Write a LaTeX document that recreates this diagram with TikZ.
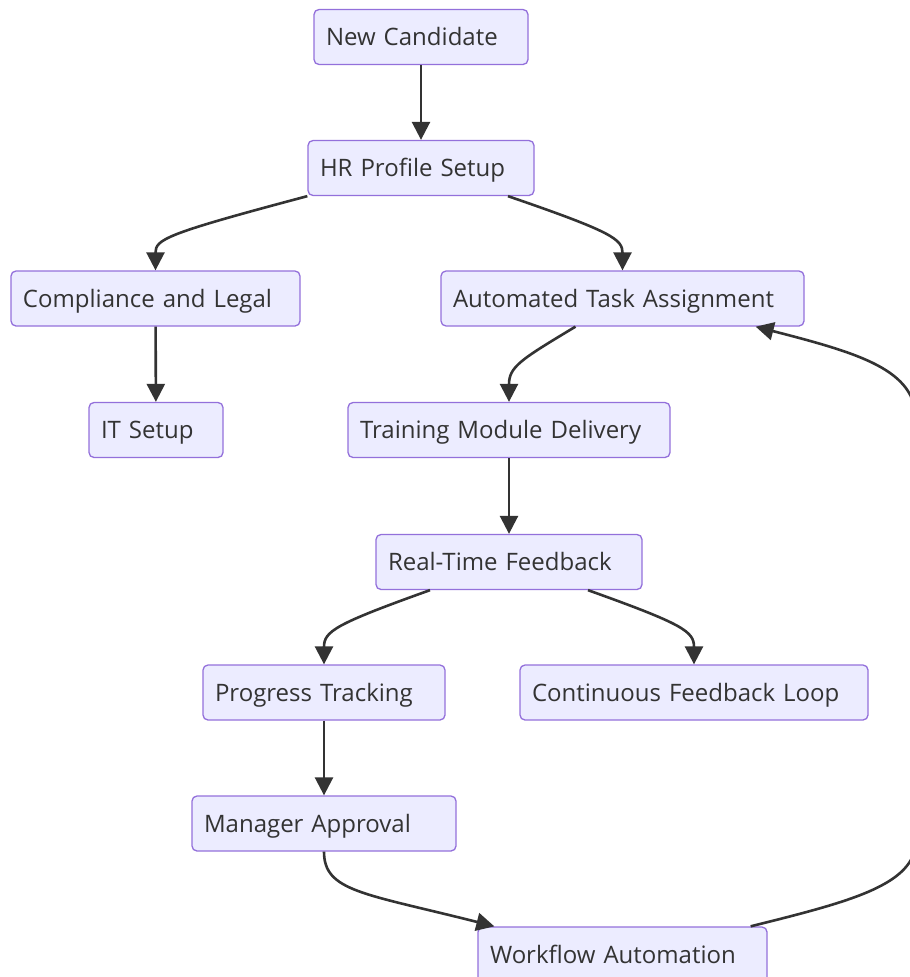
\documentclass[tikz,border=0pt]{standalone}
\usepackage{fontspec}
\setmainfont{Open Sans}
\usetikzlibrary{arrows.meta}
\definecolor{boxfill}{RGB}{236,236,255}
\definecolor{boxline}{RGB}{147,112,219}
\definecolor{ink}{RGB}{51,51,51}
\begin{document}
\begin{tikzpicture}[x=1pt, y=-1pt,
    stepbox/.style={rectangle, rounded corners=5pt, fill=boxfill, draw=boxline,
      line width=1.3pt, text=ink, align=left, text width=#1, inner xsep=12pt,
      inner ysep=0pt, minimum height=55pt, text height=17pt, text depth=0pt,
      font=\fontsize{24}{29}\selectfont},
    flow/.style={draw=ink, line width=2.6pt, -{Triangle[length=18pt,width=18pt]}}]
    \useasboundingbox (0,0) rectangle (910,977);

    % Top of the onboarding
    \node[stepbox=190pt] (cand) at (421,37) {New Candidate};
    \node[stepbox=202pt] (hr) at (421,168) {HR Profile Setup};

    % Two branches after the profile
    \node[stepbox=265pt] (legal) at (155.5,298.5) {Compliance and Legal};
    \node[stepbox=339pt] (tasks) at (622.5,298.5) {Automated Task Assignment};
    \node[stepbox=110pt] (it) at (156,430) {IT Setup};
    \node[stepbox=298pt] (train) at (509,430) {Training Module Delivery};
    \node[stepbox=242pt] (rtf) at (509,562) {Real-Time Feedback};

    % Feedback side
    \node[stepbox=218pt] (track) at (324,692.5) {Progress Tracking};
    \node[stepbox=324pt] (loop) at (694,692.5) {Continuous Feedback Loop};
    \node[stepbox=240pt] (mgr) at (324,823.5) {Manager Approval};
    \node[stepbox=265pt] (wf) at (622.5,954.5) {Workflow Automation};

    % Connectors
    \draw[flow] (cand) -- (hr);
    \draw[flow] (hr.south west) .. controls +(-143,38) and +(0,-31) .. (legal.north);
    \draw[flow] ([xshift=87pt]hr.south) .. controls +(105,36) and +(0,-31) .. (tasks.north);
    \draw[flow] (legal) -- (it);
    \draw[flow] ([xshift=-47pt]tasks.south) .. controls +(-55,33) and +(0,-35) .. (train.north);
    \draw[flow] (train) -- (rtf);
    \draw[flow] ([xshift=-79pt]rtf.south) .. controls +(-95,34) and +(0,-33) .. (track.north);
    \draw[flow] ([xshift=79pt]rtf.south) .. controls +(95,34) and +(0,-33) .. (loop.north);
    \draw[flow] (track) -- (mgr);
    \draw[flow] (mgr.south) .. controls +(0,40) and +(-130,-33) .. ([xshift=17pt]wf.north west);

    % Loop back to the task assignment
    \draw[flow] ([xshift=-17pt]wf.north east) .. controls +(100,-25) and (916,885) .. (916,840)
      -- (916,420) .. controls (916,370) and +(105,27) .. ([xshift=-49pt]tasks.south east);
\end{tikzpicture}
\end{document}
